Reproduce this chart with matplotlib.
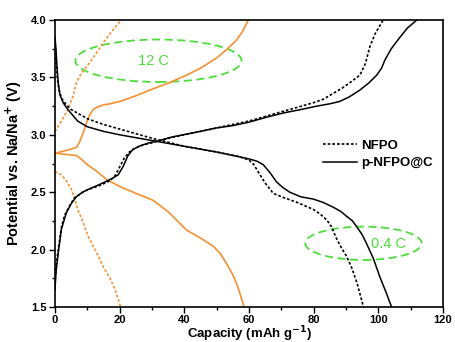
import numpy as np
import matplotlib
matplotlib.use('Agg')
import matplotlib.pyplot as plt
from matplotlib.patches import Ellipse

plt.rcParams['font.family'] = ['Liberation Sans', 'DejaVu Sans']

# 0.4 C, p-NFPO@C (solid black)
chg_pc_x = [0, 0.3, 1, 2, 3.5, 5, 6.6, 8.5, 10.7, 14, 17, 19.5, 21, 22.6, 24, 26, 29, 32.4, 36, 39.6, 45, 50, 55, 60,
            65, 70.6, 76, 81, 85, 88, 91, 94.3, 97, 99.5, 101, 102, 104, 106.7, 109, 111.9]
chg_pc_y = [1.65, 1.8, 1.97, 2.18, 2.32, 2.4, 2.46, 2.5, 2.53, 2.57, 2.61, 2.65, 2.72, 2.82, 2.87, 2.9, 2.93, 2.95, 2.98, 3.0, 3.03, 3.06, 3.08, 3.11,
            3.15, 3.19, 3.22, 3.25, 3.27, 3.29, 3.33, 3.39, 3.45, 3.52, 3.58, 3.65, 3.75, 3.85, 3.93, 4.0]
dis_pc_x = [0, 0.3, 0.6, 1, 1.5, 2.5, 4, 7, 10, 15, 20, 30, 40, 50, 60, 62.5, 64.4, 66.5, 68.5, 70.5, 72.6, 76, 79.9,
            83, 86, 88.5, 90.2, 92, 93.3, 95, 96.4, 98.5, 100.5, 102.5, 104.1]
dis_pc_y = [3.85, 3.75, 3.6, 3.45, 3.35, 3.28, 3.22, 3.12, 3.07, 3.03, 3.0, 2.95, 2.9, 2.85, 2.79, 2.77, 2.74, 2.67, 2.59, 2.54, 2.5, 2.46, 2.44,
            2.41, 2.37, 2.33, 2.29, 2.25, 2.2, 2.13, 2.05, 1.92, 1.76, 1.62, 1.5]

# 0.4 C, NFPO (dotted black)
chg_n_x = [0, 0.3, 1, 2, 3, 4.5, 6, 8, 10, 14, 17, 18.5, 20, 21.5, 23, 24.5, 27, 30, 35, 40, 45, 50, 55, 60,
           65, 70, 75, 80, 83, 86, 89, 91.5, 94.3, 96, 97.4, 99, 101.5]
chg_n_y = [1.7, 1.85, 2.0, 2.2, 2.3, 2.38, 2.45, 2.49, 2.52, 2.56, 2.6, 2.64, 2.72, 2.8, 2.85, 2.88, 2.91, 2.93, 2.97, 3.0, 3.03, 3.06, 3.09, 3.12,
           3.16, 3.2, 3.24, 3.28, 3.31, 3.36, 3.41, 3.46, 3.52, 3.62, 3.77, 3.88, 4.0]
dis_n_x = [0, 0.3, 0.7, 1.2, 2, 3.5, 5, 10, 15, 20, 30, 40, 50, 57, 60, 61.5, 63, 65, 67.5, 71, 75, 79.9,
           82, 84, 85.5, 87, 88.5, 90.2, 91.8, 93.5, 95.4]
dis_n_y = [3.8, 3.65, 3.5, 3.4, 3.32, 3.26, 3.22, 3.14, 3.09, 3.05, 2.97, 2.9, 2.85, 2.81, 2.78, 2.74, 2.67, 2.58, 2.49, 2.45, 2.41, 2.35,
           2.31, 2.26, 2.2, 2.1, 2.02, 1.94, 1.84, 1.7, 1.5]

# 12 C, p-NFPO@C (solid orange)
chg12_pc_x = [0, 3, 6.6, 7.5, 8.2, 9, 9.7, 10.7, 11.8, 13, 14.9, 17, 20, 25, 30.3, 35, 40.7, 45, 50, 53, 56, 58, 59.8]
chg12_pc_y = [2.84, 2.86, 2.89, 2.93, 2.98, 3.04, 3.1, 3.17, 3.22, 3.24, 3.26, 3.27, 3.29, 3.34, 3.4, 3.45, 3.52, 3.58, 3.67, 3.74, 3.82, 3.9, 4.0]
dis12_pc_x = [0, 3, 6.6, 8, 10, 13, 16, 20, 25, 30.3, 35, 40.7, 45, 48.9, 51, 53, 55, 56.5, 58.5]
dis12_pc_y = [2.84, 2.83, 2.82, 2.79, 2.74, 2.68, 2.61, 2.55, 2.49, 2.43, 2.33, 2.17, 2.1, 2.03, 1.97, 1.88, 1.78, 1.68, 1.5]

# 12 C, NFPO (dotted orange)
chg12_n_x = [0, 2, 4, 5.5, 6.6, 8, 9.7, 12, 14.9, 17.5, 20.5]
chg12_n_y = [3.03, 3.12, 3.22, 3.33, 3.45, 3.53, 3.59, 3.68, 3.8, 3.9, 4.0]
dis12_n_x = [0, 2, 3.5, 5, 6, 7, 8.7, 10, 11.8, 13.5, 14.9, 17, 18.5, 20.3]
dis12_n_y = [2.68, 2.65, 2.6, 2.53, 2.45, 2.35, 2.24, 2.13, 2.03, 1.94, 1.85, 1.75, 1.66, 1.5]

orange = '#f39131'
green = '#4ddd3a'
dots = (0, (1.6, 1.2))

fig = plt.figure(figsize=(4.55, 3.42), dpi=100)
ax = fig.add_axes([55 / 455, 1 - 307 / 342, 388 / 455, 287 / 342])

ax.plot(chg12_n_x, chg12_n_y, ls=dots, color=orange, lw=1.2)
ax.plot(dis12_n_x, dis12_n_y, ls=dots, color=orange, lw=1.2)
ax.plot(chg12_pc_x, chg12_pc_y, '-', color=orange, lw=1.2)
ax.plot(dis12_pc_x, dis12_pc_y, '-', color=orange, lw=1.2)

ax.plot(chg_n_x, chg_n_y, ls=dots, color='black', lw=1.2, label='NFPO')
ax.plot(dis_n_x, dis_n_y, ls=dots, color='black', lw=1.2)
ax.plot(chg_pc_x, chg_pc_y, '-', color='black', lw=1.1, label='p-NFPO@C')
ax.plot(dis_pc_x, dis_pc_y, '-', color='black', lw=1.1)

ax.add_patch(Ellipse((32, 3.645), 51.4, 0.37, fill=False, ls=(0, (4.5, 2.5)), color=green, lw=1.3))
ax.text(30.5, 3.64, '12 C', color=green, fontsize=10.5, ha='center', va='center')
ax.add_patch(Ellipse((95.4, 2.055), 36, 0.29, fill=False, ls=(0, (4.5, 2.5)), color=green, lw=1.3))
ax.text(103, 2.045, '0.4 C', color=green, fontsize=10.5, ha='center', va='center')

ax.set_xlim(0, 120)
ax.set_ylim(1.5, 4.0)
ax.set_xticks([0, 20, 40, 60, 80, 100, 120])
ax.set_xticks(np.arange(10, 120, 20), minor=True)
ax.set_yticks([1.5, 2.0, 2.5, 3.0, 3.5, 4.0])
ax.set_yticks([1.75, 2.25, 2.75, 3.25, 3.75], minor=True)
ax.tick_params(which='both', direction='out', width=1)
ax.tick_params(which='major', length=4, labelsize=8, pad=2)
ax.tick_params(which='minor', length=2.5)
for lbl in ax.get_xticklabels() + ax.get_yticklabels():
    lbl.set_fontweight('bold')
for s in ax.spines.values():
    s.set_linewidth(1.2)

ax.set_xlabel('Capacity (mAh g$^{\\mathbf{-1}}$)', fontsize=9.5, fontweight='bold', labelpad=-1)
ax.set_ylabel('Potential vs. Na/Na$^{\\mathbf{+}}$ (V)', fontsize=10.5, fontweight='bold', labelpad=5)

leg = ax.legend(loc='upper left', bbox_to_anchor=(0.66, 0.625), frameon=False,
                prop={'weight': 'bold', 'size': 9.5}, handlelength=2.6, handletextpad=0.3,
                labelspacing=0.4)

fig.savefig('out.png', dpi=100)
